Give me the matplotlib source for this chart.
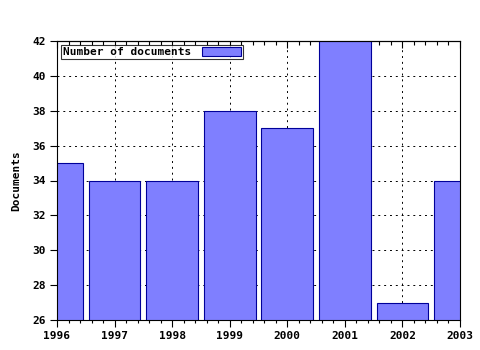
import matplotlib

matplotlib.use("Agg")
import matplotlib.pyplot as plt
from matplotlib.ticker import MultipleLocator, NullFormatter

years = [1996, 1997, 1998, 1999, 2000, 2001, 2002, 2003]
docs = [35, 34, 34, 38, 37, 42, 27, 34]

plt.rcParams["font.family"] = "DejaVu Sans Mono"
plt.rcParams["font.weight"] = "bold"
plt.rcParams["axes.labelweight"] = "bold"
plt.rcParams["font.size"] = 8

fig = plt.figure(figsize=(4.8, 3.5), dpi=100)
ax = fig.add_axes([57 / 480, 1 - 320 / 350, 403 / 480, 279 / 350])

ax.bar(years, docs, width=0.9, color="#7f7fff", edgecolor="#000099",
       linewidth=0.8, label="Number of documents", zorder=2)

ax.set_xlim(1996, 2003)
ax.set_ylim(26, 42)
ax.xaxis.set_major_locator(MultipleLocator(1))
ax.xaxis.set_minor_locator(MultipleLocator(0.2))
ax.yaxis.set_major_locator(MultipleLocator(2))
ax.tick_params(which="both", direction="out", width=0.8)
ax.tick_params(which="major", length=5, pad=3)
ax.tick_params(which="minor", length=2.5)
ax.grid(True, which="major", color="black", linestyle=(0, (2, 4)), linewidth=0.7, zorder=1)
for s in ax.spines.values():
    s.set_linewidth(0.8)

# top axis: inward ticks, no labels
top = ax.secondary_xaxis("top")
top.xaxis.set_major_locator(MultipleLocator(1))
top.xaxis.set_minor_locator(MultipleLocator(0.2))
top.xaxis.set_major_formatter(NullFormatter())
top.tick_params(which="both", direction="in", width=0.8, color="black")
top.tick_params(which="major", length=5)
top.tick_params(which="minor", length=3)

ax.set_ylabel("Documents", labelpad=8)

leg = ax.legend(loc="upper left", frameon=True, fancybox=False, borderpad=0.15,
                handlelength=3.5, handleheight=0.8, borderaxespad=0.4,
                markerfirst=False, handletextpad=1.0)
leg.get_frame().set_edgecolor("black")
leg.get_frame().set_linewidth(0.8)
leg.set_zorder(5)

fig.savefig("out.png", dpi=100)
